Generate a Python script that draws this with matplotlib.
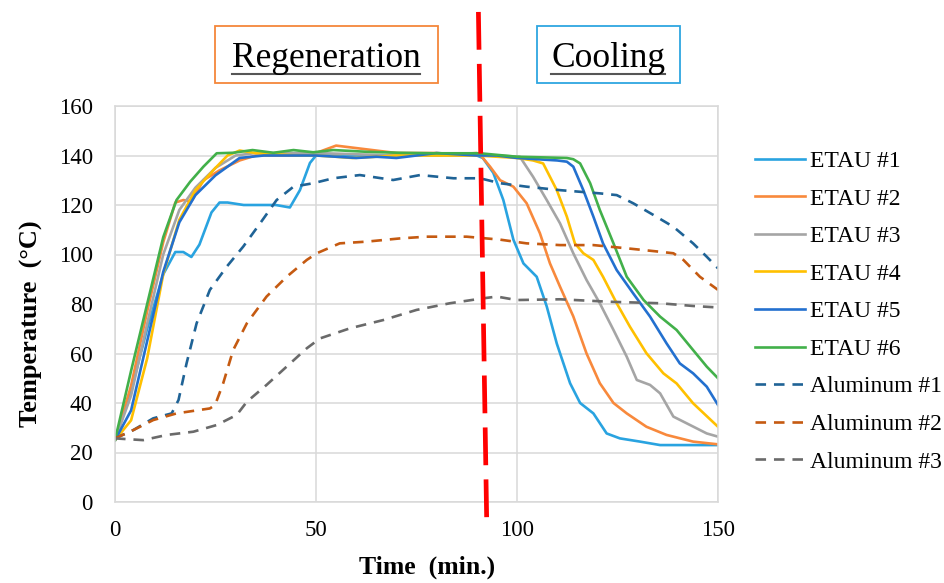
import matplotlib
matplotlib.use('Agg')
import matplotlib.pyplot as plt
from matplotlib.patches import Rectangle
from matplotlib.lines import Line2D

plt.rcParams['font.family'] = ['Liberation Serif', 'DejaVu Serif']

# --- data (time in min, temperature in deg C) ---
t_etau1 = [0, 4, 8, 12, 15, 17, 19, 21, 24, 26, 28, 32, 36, 40, 43.5, 46, 48.5, 50, 55, 60, 65, 70, 75, 80, 85, 90,
           91.5, 94.1, 96.6, 99.1, 101.6, 104.9, 107.4, 109.9, 113.2, 115.7, 119, 122.3, 125.6, 130.6, 135.6, 150]
etau1 = [25, 45, 70, 92, 101, 101, 99, 104, 117, 121, 121, 120, 120, 120, 119, 126, 137, 140, 140, 140, 139.5, 140,
         140.5, 140, 140.5, 140, 139, 133, 122, 106, 96.4, 91, 79, 64, 48, 40, 35.8, 27.7, 25.7, 24.4, 23, 23]

t_etau2 = [0, 4, 8, 12, 15, 17, 19, 22, 26, 31, 35, 40, 45, 50, 55, 60, 65, 70, 75, 80, 85, 90, 91, 93.3, 95.8,
           99.1, 102.4, 105.7, 108.2, 110.7, 114, 117.3, 120.6, 124, 127.3, 132.2, 137.2, 143.8, 150]
etau2 = [25, 47, 77, 105, 121, 122, 121.5, 130, 134, 138, 140, 140, 140, 141, 144, 143, 142, 141, 141, 141, 140.5,
         141, 140, 135.5, 130, 127.4, 120.7, 108.6, 96.4, 87, 75, 60, 48, 40, 35.8, 30.4, 27.1, 24.4, 23.3]

t_etau3 = [0, 4, 8, 12, 16, 20, 25, 30, 35, 40, 50, 60, 70, 80, 90, 95, 100.7, 104, 107.4, 110.7, 114, 117.3,
           120.6, 124, 127.3, 129.8, 133.1, 135.6, 138.9, 142.2, 147.2, 150]
etau3 = [25, 43, 72, 100, 118, 127, 135, 140, 141, 141, 141, 140.5, 140, 140, 140, 140, 139.5, 131.4, 122, 112.6,
         100.5, 89.7, 80.3, 69.5, 58.7, 49.3, 47.3, 43.9, 34.5, 31.8, 27.7, 26.4]

t_etau4 = [0, 4, 8, 12, 16, 20, 25, 28, 31, 35, 40, 45, 50, 55, 59, 65, 70, 80, 90, 100, 104, 106.5, 109.9, 112.4,
           114.4, 116.5, 119, 121.4, 124.8, 128.1, 132.2, 136.4, 139.7, 143.8, 150]
etau4 = [25, 33, 58, 92, 114, 126, 135, 140, 142, 141, 140.5, 140, 140, 139.5, 139, 139.5, 140, 140, 140, 139, 138,
         136.8, 126, 115.3, 104.5, 100.5, 97.8, 91, 80.3, 70.8, 60.1, 52, 47.9, 39.9, 30.4]

t_etau5 = [0, 4, 8, 12, 16, 20, 25, 31, 37, 45, 50, 55, 60, 65, 70, 80, 90, 95, 100, 105, 110, 112.4, 114, 116.5,
           119, 121.4, 124.8, 128.9, 133.1, 137.2, 140.5, 143.8, 147.2, 150]
etau5 = [25, 37, 65, 93, 113, 124, 132, 139, 140, 140, 140, 139.5, 139, 139.5, 139, 141, 140, 140, 139, 138.5, 138,
         137.5, 135.5, 126, 115.3, 104.5, 93.7, 84.3, 74.9, 64.1, 56, 52, 46.6, 39.2]

t_etau6 = [0, 4, 8, 12, 15.3, 18.7, 22, 25.3, 29.4, 34.2, 39.4, 44.4, 49.3, 54.3, 62.6, 70.9, 79.2, 90.8, 100,
           112.4, 114, 115.7, 118.2, 120.6, 124, 127.3, 131.5, 135.6, 139.7, 143.8, 147.2, 150]
etau6 = [25, 53, 80, 107, 122, 129.4, 135.5, 140.9, 141.1, 142.2, 141.1, 142.2, 141.3, 142.2, 141.5, 141.1, 140.9,
         140.9, 139.5, 139, 138.5, 136.8, 128.8, 118, 104.5, 91, 81.6, 74.9, 69.5, 61.4, 54.7, 50]

t_al1 = [0, 4.6, 9.5, 14.1, 15.8, 17.8, 20.3, 23.6, 27.8, 31.9, 36.1, 40.2, 44.4, 49.3, 54.3, 60.9, 69.2, 75.9,
         84.2, 90.8, 95.8, 102.4, 110.7, 120.6, 124.8, 128.9, 133.9, 138.9, 143.8, 147.2, 150]
al1 = [25.7, 29.1, 33.8, 35.8, 41.2, 56, 72.2, 85.7, 95.1, 103.2, 112.6, 122, 127.4, 128.8, 130.8, 132.1, 130.1,
       132.1, 130.8, 130.8, 128.8, 127.4, 126, 124.7, 124, 120.7, 116, 111.2, 104.5, 99.1, 94.4]

t_al2 = [0, 4.6, 9.5, 15.3, 23.6, 24.9, 26.9, 29.4, 32.8, 37.7, 42.7, 47.7, 50.2, 55.9, 62.6, 70.9, 77.5, 87.5,
         95.8, 102.4, 110.7, 119, 127.3, 135.6, 138.9, 141.4, 145.5, 150]
al2 = [25.7, 29.1, 33.1, 35.8, 37.8, 39.2, 47.9, 61.4, 72.2, 83, 91, 97.8, 100.5, 104.5, 105.2, 106.5, 107.2,
       107.2, 106, 104.5, 103.8, 103.8, 102.5, 101.1, 100.5, 97.8, 91, 85.7]

t_al3 = [0, 7, 12.9, 19.5, 25.3, 30.3, 32.8, 37.7, 42.7, 47.7, 51, 58.5, 66.7, 75, 83.3, 91.6, 95, 99.9, 110.7,
         123.1, 135.6, 143.8, 150]
al3 = [25.7, 25, 27.1, 28.4, 31.1, 35.2, 40.5, 47.3, 54.7, 62.1, 66.1, 70.2, 73.5, 77.6, 80.3, 82.3, 83, 81.6,
       81.9, 80.9, 80.3, 79.2, 78.6]

labels = ['ETAU #1', 'ETAU #2', 'ETAU #3', 'ETAU #4', 'ETAU #5', 'ETAU #6',
          'Aluminum #1', 'Aluminum #2', 'Aluminum #3']
colors = ['#29a3e0', '#f8893c', '#a5a5a5', '#ffc000', '#2370cf', '#42b04a',
          '#1f6396', '#c55a11', '#6a6a6a']

series = [(t_etau1, etau1), (t_etau2, etau2), (t_etau3, etau3), (t_etau4, etau4), (t_etau5, etau5),
          (t_etau6, etau6), (t_al1, al1), (t_al2, al2), (t_al3, al3)]

fig = plt.figure(figsize=(9.45, 5.83), dpi=100)
ax = fig.add_axes([115 / 945, 81 / 583, 603 / 945, 396 / 583])

handles = []
for i, (t, y) in enumerate(series):
    if i < 6:
        h, = ax.plot(t, y, color=colors[i], lw=1.9, solid_joinstyle='round', label=labels[i])
    else:
        h, = ax.plot(t, y, color=colors[i], lw=1.9, dashes=(4, 3), label=labels[i])
    handles.append(h)

# phase boundary (slanted, runs past the plot area)
ax.plot([90.4, 92.45], [198, -6.5], color='#ff0000', lw=3.4, dashes=(8, 3), clip_on=False, zorder=5)

ax.set_xlim(0, 150)
ax.set_ylim(0, 160)
ax.set_xticks([0, 50, 100, 150])
ax.set_yticks(range(0, 161, 20))
ax.grid(True, color='#d9d9d9', lw=1.1)
ax.set_axisbelow(True)
for s in ax.spines.values():
    s.set_color('#d9d9d9')
    s.set_linewidth(1.1)
ax.tick_params(length=0, labelsize=16.5, colors='black')
ax.tick_params(axis='y', pad=16)
ax.tick_params(axis='x', pad=13)

ax.set_xlabel('Time  (min.)', fontsize=18.5, fontweight='bold')
ax.xaxis.set_label_coords((427 - 115) / 603, -0.136)
ax.set_ylabel('Temperature  (\u00b0C)', fontsize=19, fontweight='bold')
ax.yaxis.set_label_coords((43 - 115) / 603, 0.451)

fig.legend(handles=handles, loc='center left', bbox_to_anchor=(755 / 945, 0.4657), frameon=False,
           fontsize=17, handlelength=2.1, handletextpad=0.25, labelspacing=0.68, borderpad=0,
           borderaxespad=0)

# phase boxes
fig.add_artist(Rectangle((215 / 945, 1 - 83 / 583), 223 / 945, 57 / 583, transform=fig.transFigure,
                         fill=False, edgecolor='#f5873a', lw=1.3))
fig.add_artist(Rectangle((537 / 945, 1 - 83 / 583), 143 / 945, 57 / 583, transform=fig.transFigure,
                         fill=False, edgecolor='#2ea6e0', lw=1.3))
t1 = fig.text(326 / 945, 1 - 67 / 583, 'Regeneration', fontsize=25.5, ha='center', va='baseline')
t2 = fig.text(608.5 / 945, 1 - 67 / 583, 'Cooling', fontsize=25.5, ha='center', va='baseline')

fig.canvas.draw()
inv = fig.transFigure.inverted()
for t in (t1, t2):
    bb = t.get_window_extent()
    x0, _ = inv.transform((bb.x0, 0))
    x1, _ = inv.transform((bb.x1, 0))
    fig.add_artist(Line2D([x0, x1], [1 - 74 / 583] * 2, transform=fig.transFigure, color='#555555', lw=1.5))

fig.savefig('out.png', dpi=100)
